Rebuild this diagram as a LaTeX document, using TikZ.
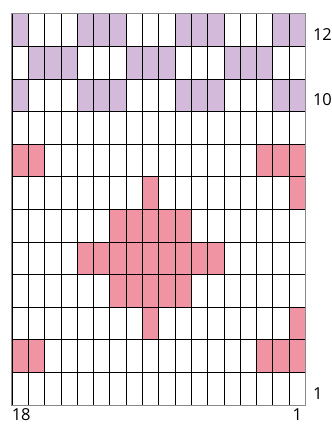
\documentclass[tikz,border=0pt]{standalone}
\usepackage{fontspec}
\setmainfont{Open Sans}
\definecolor{lilac}{HTML}{D3BADB}
\definecolor{rose}{HTML}{F093A3}
\definecolor{rim}{HTML}{8A8A8A}
\begin{document}
\begin{tikzpicture}[x=1pt, y=1pt, font=\fontsize{16.5}{16.5}\selectfont,
    cell/.style={draw=black, line width=0.8pt, minimum width=16.3pt, minimum height=32.6pt, inner sep=0pt}]
  \useasboundingbox (0,0) rectangle (331,427);
  % empty chart
  \foreach \row in {1,...,12}
    \foreach \pos in {1,...,18}
      \node[cell, fill=white] (c\row-\pos) at (12+16.3*\pos-8.15, 22+32.6*\row-16.3) {};
  % coloured stitches
  \foreach \row/\cols/\col in {12/{1,5,6,7,11,12,13,17,18}/lilac, 11/{2,3,4,8,9,10,14,15,16}/lilac,
      10/{1,5,6,7,11,12,13,17,18}/lilac, 8/{1,2,16,17,18}/rose, 7/{9,18}/rose, 6/{7,8,9,10,11}/rose,
      5/{5,6,7,8,9,10,11,12,13}/rose, 4/{7,8,9,10,11}/rose, 3/{9,18}/rose, 2/{1,2,16,17,18}/rose}
    \foreach \pos in \cols
      \node[cell, fill=\col] at (c\row-\pos) {};
  \draw[rim, line width=1.2pt] (c12-1.north west) rectangle (c1-18.south east);
  % row and stitch numbers
  \node[anchor=west, inner xsep=0pt] (r12) at ([xshift=7pt, yshift=-4.5pt]c12-18.east) {12};
  \node[anchor=west, inner xsep=0pt] (r10) at ([xshift=7pt, yshift=-4.5pt]c10-18.east) {10};
  \node[anchor=west, inner xsep=0pt] (r1) at ([xshift=7pt, yshift=-4.5pt]c1-18.east) {1};
  \node[anchor=north west, inner xsep=0pt, inner ysep=1pt] (s18) at ([yshift=-2pt]c1-1.south west) {18};
  \node[anchor=north, inner ysep=1pt] (s1) at ([yshift=-2pt]c1-18.south) {1};
\end{tikzpicture}
\end{document}
